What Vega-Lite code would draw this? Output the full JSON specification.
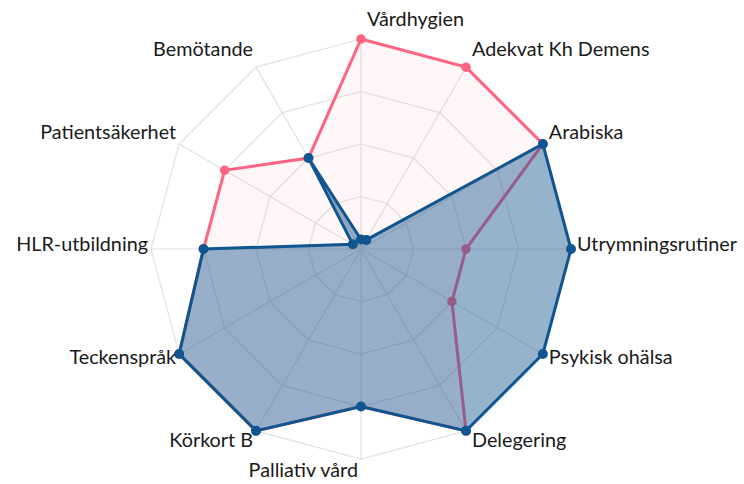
{
  "$schema": "https://vega.github.io/schema/vega-lite/v6.json",
  "width": 744,
  "height": 484,
  "autosize": "none",
  "padding": 0,
  "background": "white",
  "config": {"view": {"stroke": null}},
  "datasets": {
    "axes": [
      {"k": "Vårdhygien", "i": 0, "lv": [0.25, 0.5, 0.75, 1], "sp": [0, 1]},
      {"k": "Adekvat Kh Demens", "i": 1, "lv": [0.25, 0.5, 0.75, 1], "sp": [0, 1]},
      {"k": "Arabiska", "i": 2, "lv": [0.25, 0.5, 0.75, 1], "sp": [0, 1]},
      {"k": "Utrymningsrutiner", "i": 3, "lv": [0.25, 0.5, 0.75, 1], "sp": [0, 1]},
      {"k": "Psykisk ohälsa", "i": 4, "lv": [0.25, 0.5, 0.75, 1], "sp": [0, 1]},
      {"k": "Delegering", "i": 5, "lv": [0.25, 0.5, 0.75, 1], "sp": [0, 1]},
      {"k": "Palliativ vård", "i": 6, "lv": [0.25, 0.5, 0.75, 1], "sp": [0, 1]},
      {"k": "Körkort B", "i": 7, "lv": [0.25, 0.5, 0.75, 1], "sp": [0, 1]},
      {"k": "Teckenspråk", "i": 8, "lv": [0.25, 0.5, 0.75, 1], "sp": [0, 1]},
      {"k": "HLR-utbildning", "i": 9, "lv": [0.25, 0.5, 0.75, 1], "sp": [0, 1]},
      {"k": "Patientsäkerhet", "i": 10, "lv": [0.25, 0.5, 0.75, 1], "sp": [0, 1]},
      {"k": "Bemötande", "i": 11, "lv": [0.25, 0.5, 0.75, 1], "sp": [0, 1]}
    ],
    "vals": [
      {"s": "A", "k": "Vårdhygien", "i": 0, "v": 1},
      {"s": "A", "k": "Adekvat Kh Demens", "i": 1, "v": 1},
      {"s": "A", "k": "Arabiska", "i": 2, "v": 1},
      {"s": "A", "k": "Utrymningsrutiner", "i": 3, "v": 0.5},
      {"s": "A", "k": "Psykisk ohälsa", "i": 4, "v": 0.5},
      {"s": "A", "k": "Delegering", "i": 5, "v": 1},
      {"s": "A", "k": "Palliativ vård", "i": 6, "v": 0.75},
      {"s": "A", "k": "Körkort B", "i": 7, "v": 1},
      {"s": "A", "k": "Teckenspråk", "i": 8, "v": 1},
      {"s": "A", "k": "HLR-utbildning", "i": 9, "v": 0.75},
      {"s": "A", "k": "Patientsäkerhet", "i": 10, "v": 0.75},
      {"s": "A", "k": "Bemötande", "i": 11, "v": 0.5},
      {"s": "B", "k": "Vårdhygien", "i": 0, "v": 0.045},
      {"s": "B", "k": "Adekvat Kh Demens", "i": 1, "v": 0.05},
      {"s": "B", "k": "Arabiska", "i": 2, "v": 1},
      {"s": "B", "k": "Utrymningsrutiner", "i": 3, "v": 1},
      {"s": "B", "k": "Psykisk ohälsa", "i": 4, "v": 1},
      {"s": "B", "k": "Delegering", "i": 5, "v": 1},
      {"s": "B", "k": "Palliativ vård", "i": 6, "v": 0.75},
      {"s": "B", "k": "Körkort B", "i": 7, "v": 1},
      {"s": "B", "k": "Teckenspråk", "i": 8, "v": 1},
      {"s": "B", "k": "HLR-utbildning", "i": 9, "v": 0.75},
      {"s": "B", "k": "Patientsäkerhet", "i": 10, "v": 0.045},
      {"s": "B", "k": "Bemötande", "i": 11, "v": 0.5}
    ]
  },
  "layer": [
    {
      "data": {"name": "axes"},
      "transform": [
        {"flatten": ["lv"]},
        {"calculate": "datum.lv * sin(datum.i * PI / 6)", "as": "x"},
        {"calculate": "datum.lv * cos(datum.i * PI / 6)", "as": "y"}
      ],
      "mark": {"type": "line", "interpolate": "linear-closed", "stroke": "#e2e2e2", "strokeWidth": 1.2},
      "encoding": {
        "x": {"field": "x", "type": "quantitative", "scale": {"domain": [-1.719, 1.8238], "nice": false, "zero": false}, "axis": null},
        "y": {"field": "y", "type": "quantitative", "scale": {"domain": [-1.119, 1.1857], "nice": false, "zero": false}, "axis": null},
        "detail": {"field": "lv", "type": "nominal"},
        "order": {"field": "i", "type": "quantitative"}
      }
    },
    {
      "data": {"name": "axes"},
      "transform": [
        {"flatten": ["sp"]},
        {"calculate": "datum.sp * sin(datum.i * PI / 6)", "as": "x"},
        {"calculate": "datum.sp * cos(datum.i * PI / 6)", "as": "y"}
      ],
      "mark": {"type": "line", "stroke": "#e2e2e2", "strokeWidth": 1.2},
      "encoding": {
        "x": {"field": "x", "type": "quantitative"},
        "y": {"field": "y", "type": "quantitative"},
        "detail": {"field": "i", "type": "nominal"},
        "order": {"field": "sp", "type": "quantitative"}
      }
    },
    {
      "data": {"name": "vals"},
      "transform": [
        {"filter": "datum.s == 'A'"},
        {"calculate": "datum.v * sin(datum.i * PI / 6)", "as": "x"},
        {"calculate": "datum.v * cos(datum.i * PI / 6)", "as": "y"}
      ],
      "mark": {"type": "line", "interpolate": "linear-closed", "fill": "#ff6384", "fillOpacity": 0.06, "stroke": "#ff6384", "strokeWidth": 3},
      "encoding": {
        "x": {"field": "x", "type": "quantitative"},
        "y": {"field": "y", "type": "quantitative"},
        "order": {"field": "i", "type": "quantitative"}
      }
    },
    {
      "data": {"name": "vals"},
      "transform": [
        {"filter": "datum.s == 'A'"},
        {"calculate": "datum.v * sin(datum.i * PI / 6)", "as": "x"},
        {"calculate": "datum.v * cos(datum.i * PI / 6)", "as": "y"}
      ],
      "mark": {"type": "circle", "color": "#ff6384", "opacity": 1, "size": 90},
      "encoding": {
        "x": {"field": "x", "type": "quantitative"},
        "y": {"field": "y", "type": "quantitative"}
      }
    },
    {
      "data": {"name": "vals"},
      "transform": [
        {"filter": "datum.s == 'B'"},
        {"calculate": "datum.v * sin(datum.i * PI / 6)", "as": "x"},
        {"calculate": "datum.v * cos(datum.i * PI / 6)", "as": "y"}
      ],
      "mark": {"type": "line", "interpolate": "linear-closed", "fill": "#16578f", "fillOpacity": 0.45, "stroke": "#0f5590", "strokeWidth": 3},
      "encoding": {
        "x": {"field": "x", "type": "quantitative"},
        "y": {"field": "y", "type": "quantitative"},
        "order": {"field": "i", "type": "quantitative"}
      }
    },
    {
      "data": {"name": "vals"},
      "transform": [
        {"filter": "datum.s == 'B'"},
        {"calculate": "datum.v * sin(datum.i * PI / 6)", "as": "x"},
        {"calculate": "datum.v * cos(datum.i * PI / 6)", "as": "y"}
      ],
      "mark": {"type": "circle", "color": "#0f5590", "opacity": 1, "size": 100},
      "encoding": {
        "x": {"field": "x", "type": "quantitative"},
        "y": {"field": "y", "type": "quantitative"}
      }
    },
    {
      "data": {"name": "axes"},
      "transform": [
        {"filter": "datum.i < 6"},
        {"calculate": "sin(datum.i * PI / 6)", "as": "x"},
        {"calculate": "1.085 * cos(datum.i * PI / 6) + 0.005 + 0.012 * (1 - cos(datum.i * PI / 6))", "as": "y"}
      ],
      "mark": {"type": "text", "align": "left", "baseline": "middle", "dx": 6, "font": "Lato", "fontSize": 19.8, "fill": "#1a1a1a"},
      "encoding": {
        "x": {"field": "x", "type": "quantitative"},
        "y": {"field": "y", "type": "quantitative"},
        "text": {"field": "k", "type": "nominal"}
      }
    },
    {
      "data": {"name": "axes"},
      "transform": [
        {"filter": "datum.i >= 6"},
        {"calculate": "sin(datum.i * PI / 6)", "as": "x"},
        {"calculate": "1.085 * cos(datum.i * PI / 6) + 0.005 + 0.012 * (1 - cos(datum.i * PI / 6))", "as": "y"}
      ],
      "mark": {"type": "text", "align": "right", "baseline": "middle", "dx": -3, "font": "Lato", "fontSize": 19.8, "fill": "#1a1a1a"},
      "encoding": {
        "x": {"field": "x", "type": "quantitative"},
        "y": {"field": "y", "type": "quantitative"},
        "text": {"field": "k", "type": "nominal"}
      }
    }
  ]
}
